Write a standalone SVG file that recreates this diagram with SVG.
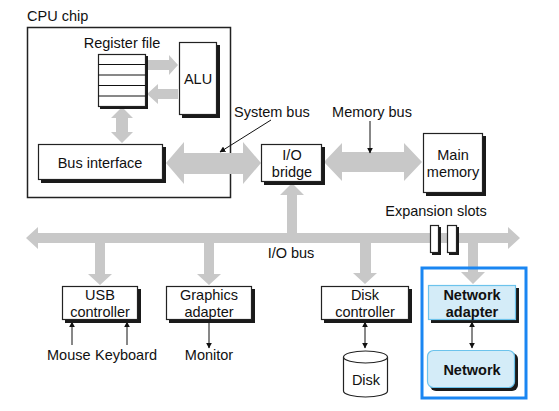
<svg xmlns="http://www.w3.org/2000/svg" width="559" height="411" viewBox="0 0 559 411">
<defs>
<marker id="ah" viewBox="0 0 10 10" refX="9" refY="5" markerWidth="6" markerHeight="6" orient="auto-start-reverse" markerUnits="userSpaceOnUse">
<path d="M0,0 L10,5 L0,10 z" fill="#111"/>
</marker>
</defs>
<style>
text{font-family:"Liberation Sans",Arial,sans-serif;font-size:14.5px;fill:#111}
.c{text-anchor:middle}
.b{font-weight:bold}
.box{fill:#fff;stroke:#222;stroke-width:1.2}
.sh{fill:#1a1a1a}
.bus{fill:#c8c8c8}
.ln{stroke:#111;stroke-width:1;fill:none}
.nbox{fill:#d4ecf8;stroke:#6cc3ec;stroke-width:1.2}
</style>
<rect width="559" height="411" fill="#fff"/>

<g id="cpu-chip">
<text x="27" y="21">CPU chip</text>
<rect x="27.5" y="27.5" width="203" height="170" fill="none" stroke="#222" stroke-width="1.5"/>
</g>

<g id="connectors">
<polygon class="bus" points="147,60 169,60 169,55 178,65 169,75 169,70 147,70"/>
<polygon class="bus" points="178,89 158,89 158,84 147,94 158,104 158,99 178,99"/>
<polygon class="bus" points="122,107 133,118 128,118 128,132 133,132 122,143 111,132 116,132 116,118 111,118"/>
<polygon class="bus" points="166,163 184,142 184,153 243,153 243,142 261,163 243,184 243,174 184,174 184,184"/>
<polygon class="bus" points="324,162 342,143 342,152 404,152 404,143 422,162 404,181 404,172 342,172 342,181"/>
<polygon class="bus" points="26,238 38,227 38,233 508,233 508,227 520,238 508,249 508,243 38,243 38,249"/>
<polygon class="bus" points="292,183 304,195 297,195 297,234 287,234 287,195 280,195"/>
<polygon class="bus" points="95,242 105,242 105,274 112,274 100,285 88,274 95,274"/>
<polygon class="bus" points="204,242 214,242 214,274 221,274 209,285 197,274 204,274"/>
<polygon class="bus" points="360,242 371,242 371,273 377,273 365,284 353,273 360,273"/>
<polygon class="bus" points="468,242 478,242 478,272 485,272 473,284 461,272 468,272"/>
<line class="ln" x1="271" y1="120" x2="220" y2="152" marker-end="url(#ah)"/>
<line class="ln" x1="370" y1="121" x2="370" y2="153" marker-end="url(#ah)"/>
<line class="ln" x1="72" y1="345" x2="72" y2="322" marker-end="url(#ah)"/>
<line class="ln" x1="127" y1="345" x2="127" y2="322" marker-end="url(#ah)"/>
<line class="ln" x1="209" y1="321" x2="209" y2="348" marker-end="url(#ah)"/>
<line class="ln" x1="365" y1="322" x2="365" y2="348" marker-start="url(#ah)" marker-end="url(#ah)"/>
<line class="ln" x1="472" y1="322" x2="472" y2="348" marker-start="url(#ah)" marker-end="url(#ah)"/>
</g>

<g id="register-file">
<text class="c" x="122" y="48">Register file</text>
<rect class="sh" x="100" y="56" width="48" height="53"/>
<rect class="box" x="98.5" y="54.5" width="47" height="52"/>
<path class="ln" d="M98.5,64.5H145.5M98.5,75H145.5M98.5,85.5H145.5M98.5,96H145.5"/>
</g>

<g id="alu">
<rect class="sh" x="182" y="45" width="38" height="73"/>
<rect class="box" x="179.5" y="42.5" width="37" height="72"/>
<text class="c" x="198" y="84">ALU</text>
</g>

<g id="bus-interface">
<rect class="sh" x="41" y="147" width="125" height="36"/>
<rect class="box" x="38.5" y="144.5" width="124" height="35"/>
<text class="c" x="100" y="168">Bus interface</text>
</g>

<g id="io-bridge">
<rect class="sh" x="264" y="147" width="61" height="38"/>
<rect class="box" x="261.5" y="144.5" width="60" height="37"/>
<text class="c" x="292" y="160">I/O</text>
<text class="c" x="292" y="177">bridge</text>
</g>

<g id="main-memory">
<rect class="sh" x="426" y="136" width="60" height="60"/>
<rect class="box" x="423.5" y="133.5" width="59" height="59"/>
<text class="c" x="453" y="160">Main</text>
<text class="c" x="453" y="177">memory</text>
</g>

<g id="labels">
<text x="234" y="117">System bus</text>
<text class="c" x="372" y="117">Memory bus</text>
<text class="c" x="291" y="258">I/O bus</text>
<text class="c" x="436" y="216">Expansion slots</text>
</g>

<g id="expansion-slots">
<rect class="sh" x="432" y="227" width="9" height="28"/>
<rect class="box" x="430.5" y="225.5" width="8" height="27"/>
<rect class="sh" x="449" y="227" width="10" height="28"/>
<rect class="box" x="447.5" y="225.5" width="9" height="27"/>
</g>

<g id="usb-controller">
<rect class="sh" x="65" y="289" width="76" height="34"/>
<rect class="box" x="62.5" y="286.5" width="75" height="33"/>
<text class="c" x="100" y="300">USB</text>
<text class="c" x="100" y="317">controller</text>
<text x="47" y="360">Mouse</text>
<text x="95" y="360">Keyboard</text>
</g>

<g id="graphics-adapter">
<rect class="sh" x="169" y="289" width="86" height="34"/>
<rect class="box" x="166.5" y="286.5" width="85" height="33"/>
<text class="c" x="209" y="300">Graphics</text>
<text class="c" x="209" y="317">adapter</text>
<text class="c" x="209" y="360">Monitor</text>
</g>

<g id="disk-controller">
<rect class="sh" x="324" y="289" width="88" height="34"/>
<rect class="box" x="321.5" y="286.5" width="87" height="33"/>
<text class="c" x="365" y="300">Disk</text>
<text class="c" x="365" y="317">controller</text>
</g>

<g id="disk">
<path d="M343.5,357 V391 A22,6 0 0 0 387.5,391 V357" fill="#fff" stroke="#222" stroke-width="1.2"/>
<ellipse cx="365.5" cy="357" rx="22" ry="6" fill="#fff" stroke="#222" stroke-width="1.2"/>
<text class="c" x="366" y="385">Disk</text>
</g>

<g id="network-adapter">
<rect class="sh" x="431" y="288" width="88" height="35"/>
<rect class="nbox" x="428.5" y="285.5" width="87" height="34"/>
<text class="c b" x="472" y="300">Network</text>
<text class="c b" x="472" y="317">adapter</text>
</g>

<g id="network">
<rect class="sh" x="430" y="353" width="88" height="38" rx="6"/>
<rect class="nbox" x="427.5" y="350.5" width="87" height="37" rx="6"/>
<text class="c b" x="472" y="375">Network</text>
</g>

<g id="highlight">
<rect x="422" y="268" width="104" height="130" fill="none" stroke="#1a86f2" stroke-width="3"/>
</g>
</svg>
